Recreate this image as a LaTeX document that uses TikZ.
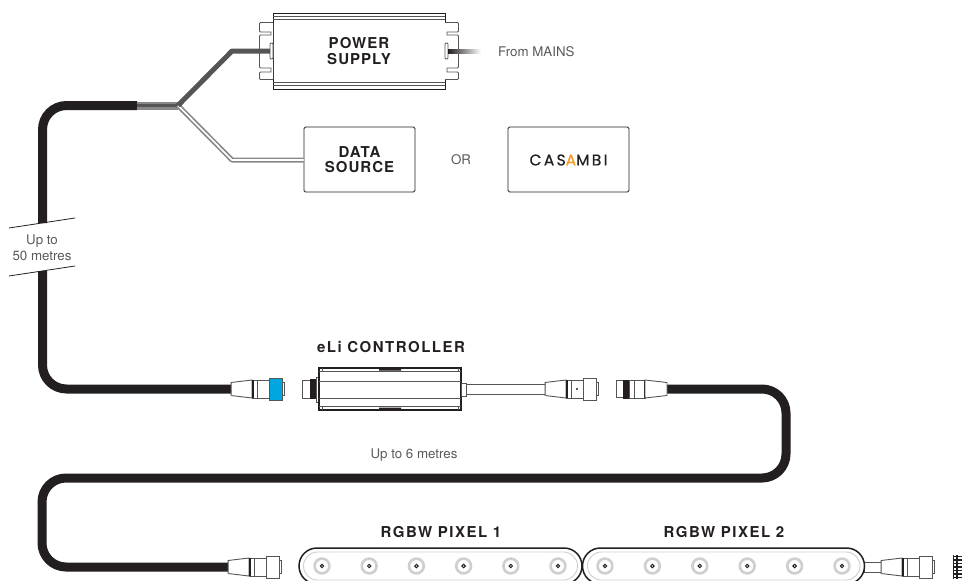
\documentclass[tikz,border=0pt]{standalone}
\usepackage{fontspec}
\setmainfont{TeX Gyre Heros}
\newfontfamily\casfont[LetterSpace=15,FakeBold=0.6]{Poppins}
\newfontfamily\headfont[LetterSpace=7]{TeX Gyre Heros}
\newfontfamily\labfont[LetterSpace=10]{TeX Gyre Heros}
\definecolor{ink}{HTML}{231F20}
\definecolor{txt}{HTML}{58595B}
\definecolor{lne}{HTML}{555555}
\definecolor{ringc}{HTML}{CFCFCF}
\definecolor{blueband}{HTML}{00A6E0}
\definecolor{casor}{HTML}{F59A23}
\tikzset{
  cable/.style={draw=ink,line width=9pt,rounded corners=24pt},
  boxn/.style={draw=ink,line width=.8pt,fill=white,rounded corners=1.5pt,align=center,inner sep=0pt,minimum height=65pt},
  titl/.style={font=\fontsize{15}{15.5}\selectfont\headfont\bfseries,text=ink,align=center,inner sep=0pt},
  labl/.style={font=\fontsize{15}{15.5}\selectfont\labfont\bfseries,text=ink,align=center,inner sep=0pt},
  note/.style={font=\fontsize{13.3}{15.5}\selectfont,text=txt,align=center,inner sep=0pt},
  strip/.style={draw=ink,line width=1.5pt,fill=white,rounded corners=18pt,inner sep=0pt,minimum height=36pt},
  hw/.style={draw=lne,line width=.9pt,fill=white},
  thick hw/.style={draw=lne,line width=1pt,fill=white},
  pics/conn/.style={code={
    \draw[hw] (0,-6.5)--(21,-9)--(21,9)--(0,6.5)--cycle;
    \fill[lne!70] (0,-6.5) rectangle (1.2,6.5);
    \draw[hw] (21,-9) rectangle (38,9);
    \fill[ink] (21,-9) rectangle (23,9);
    \draw[lne,line width=.7pt] (26.5,-9)--(26.5,9);
    \draw[thick hw,fill=#1] (38,-11) rectangle (51,11);
    \draw[hw] (51,-6.5) rectangle (53.5,6.5);
  }},
  pics/plugend/.style={code={
    \draw[hw] (0,-8.5) rectangle (7,8.5);
    \fill[ink] (7,-9.5) rectangle (13,9.5);
    \draw[hw] (13,-9) rectangle (29,9);
    \draw[lne,line width=.7pt] (18,-9)--(18,9);
    \fill[ink] (27.5,-9) rectangle (29,9);
    \draw[hw] (29,-9)--(51,-6.5)--(51,6.5)--(29,9)--cycle;
  }},
  pics/led/.style={code={
    \draw[ringc,line width=2.6pt] (0,0) circle (7.4);
    \draw[ink,line width=1pt] (0,0) circle (1.7);
  }},
  pics/tabs/.style={code={
    \draw[lne,line width=.8pt,fill=white]
      (14,-28.5)--(1.5,-28.5)--(.5,-27.5)--(.5,-20)--(1.5,-19)--(12,-19)--(12,-16)--(1.5,-16)--(.5,-15)
      --(.5,16)--(1.5,17)--(12,17)--(12,21)--(1.5,21)--(.5,22)--(.5,27.5)--(1.5,28.5)--(14,28.5);
    \draw[lne,line width=.8pt,rounded corners=1pt,fill=white] (11,-8) rectangle (14,8);
  }},
}
\begin{document}
\begin{tikzpicture}[x=1pt,y=-1pt]
\useasboundingbox (0,0) rectangle (962,581);
\clip (0,0) rectangle (962,581);

% named anchors
\coordinate (split) at (178,105.5);
\coordinate (sheath) at (137,105.5);
\coordinate (bendU) at (232,51);
\coordinate (bendL) at (232,160);
\coordinate (breakA) at (42.5,223);
\coordinate (breakB) at (42.5,271);
\coordinate (plugA) at (231,389);
\coordinate (plugB) at (667,389);
\coordinate (plugC) at (228,567);

% boxes
\node[draw=ink,line width=1pt,fill=white,minimum width=172pt,minimum height=76pt,inner sep=0pt] (psu) at (359,51) {};
\node[boxn,minimum width=111pt] (datasrc) at (359.5,159.5) {};
\node[boxn,minimum width=121pt] (casambi) at (568.5,159.5) {};

% power supply details
\pic at (259,51) {tabs};
\pic[xscale=-1] at (459,51) {tabs};
\draw[lne,line width=.8pt] (273,16.5)--(445,16.5) (273,19.5)--(445,19.5) (273,82.5)--(445,82.5) (273,85.5)--(445,85.5);
\node[titl] (psutext) at (359,51) {POWER\\SUPPLY};
\node[titl] (dstext) at (359.5,159.5) {DATA\\SOURCE};
\node[inner sep=0pt,font=\fontsize{15.5}{15.5}\selectfont\casfont,text=ink] (castext) at (568.5,160) {CAS{\color{casor}A}MBI};

% cables near the source
\draw[cable] (sheath) -- (breakA |- sheath) -- (breakA);
\draw[draw=lne!70,line width=8pt] (sheath) -- (split);
\draw[draw=lne,line width=3.5pt] (sheath) -- (split);
\draw[draw=lne!70,line width=5pt,line join=round] (split) -- (bendL) -- (datasrc.west |- bendL);
\draw[draw=white,line width=1.6pt,line join=round] (split) -- (bendL) -- (datasrc.west |- bendL);
\draw[draw=lne,line width=5pt,line join=round] (split) -- (bendU) -- (270,51);
\shade[left color=ink,middle color=ink!70,right color=white] (448,49) rectangle (481,53);

\node[note,anchor=west] (mains) at (498,51.5) {From MAINS};
\node[note] (ortxt) at (461,160) {OR};

% long run break
\draw[ink,line width=.8pt] (9,228)--(75,218) coordinate (brk1);
\draw[ink,line width=.8pt] (9,276)--(75,266) coordinate (brk2);
\node[note] (run50) at (42,247.5) {Up to\\50 metres};

% main black cables
\draw[cable] (breakB) -- (breakB |- plugA) -- (plugA);
\draw[cable] (plugB) -- (786,389) -- (786,478) -- (42,478) -- (42,567) -- (plugC);

% controller
\node[labl] (elitxt) at (391,347) {eLi CONTROLLER};
\draw[hw,line width=.9pt] (466,384.5) rectangle (545,394.5);
\draw[hw] (302.5,380) rectangle (310,398);
\fill[ink] (310,379) rectangle (316,399);
\draw[thick hw] (316,377) rectangle (319,402);
\node[draw=ink,line width=1.1pt,fill=white,minimum width=142pt,minimum height=42pt,inner sep=0pt] (ctrl) at (390,389) {};
\draw[lne,line width=.9pt] (319,381)--(461,381) (319,398)--(461,398) (319,371.5)--(461,371.5) (319,406.5)--(461,406.5);
\draw[lne,line width=.7pt] (322,368)--(322,371.5) (458,368)--(458,371.5) (322,406.5)--(322,410) (458,406.5)--(458,410);
\fill[ink] (379,368) rectangle (401,370.5) (379,407.5) rectangle (401,410);
\draw[hw] (461,383) rectangle (466,396);

% connectors
\pic at (plugA) {conn=blueband};
\pic at (545,389) {conn=white};
\fill[ink] (577,389) circle (1.1);
\pic at (616,389) {plugend};
\pic at (plugC) {conn=white};

% tail connector and terminator
\draw[hw] (864,562) rectangle (881,572);
\pic at (881,567) {conn=white};
\foreach \yy in {556.5,560,563.5,567,570.5,574,577.5} {\draw[ink,line width=1.3pt] (954,\yy)--(962,\yy);}
\draw[ink,line width=1.1pt] (953.5,555)--(953.5,579) (957,555)--(957,579);

% strips
\node[strip,minimum width=283pt] (strip1) at (440.5,566) {};
\node[strip,minimum width=282pt] (strip2) at (723.5,566) {};
\draw[ringc,line width=.9pt,rounded corners=14pt] (303.5,552) rectangle (577.5,580);
\draw[ringc,line width=.9pt,rounded corners=14pt] (587.5,552) rectangle (860,580);
\foreach \xx in {322,369.2,416.4,463.6,510.8,558,605,652.4,699.8,747.2,794.6,842} {\pic at (\xx,566) {led};}
\node[labl] (p1) at (441,532) {RGBW PIXEL 1};
\node[labl] (p2) at (724,532) {RGBW PIXEL 2};
\node[note] (run6) at (414,455) {Up to 6 metres};
\end{tikzpicture}
\end{document}
